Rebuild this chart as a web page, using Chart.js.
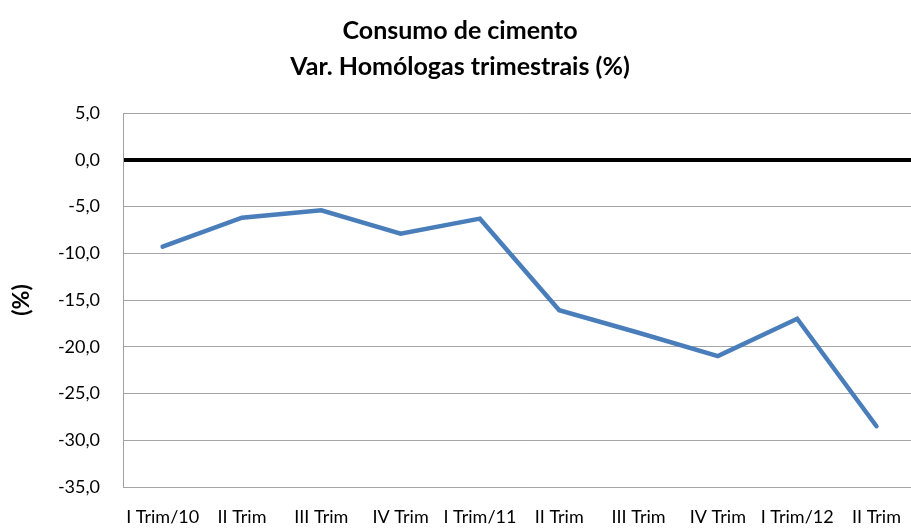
<!DOCTYPE html>
<html>
<head>
<meta charset="utf-8">
<script src="https://cdn.jsdelivr.net/npm/chart.js@4"></script>
<style>
  html, body { margin: 0; padding: 0; background: #fff; overflow: hidden; }
  #wrap { width: 920px; height: 532px; }
</style>
</head>
<body>
<div id="wrap"><canvas id="chart" width="920" height="532"></canvas></div>
<script>
  // data
  const categories = ["I Trim/10", "II Trim", "III Trim", "IV Trim", "I Trim/11", "II Trim", "III Trim", "IV Trim", "I Trim/12", "II Trim"];
  const consumo = [-9.3, -6.2, -5.4, -7.9, -6.3, -16.1, -18.5, -21.0, -17.0, -28.5];
  const titleLines = ["Consumo de cimento", "Var. Homólogas trimestrais (%)"];
  const yMin = -35, yMax = 5, yStep = 5;

  const FONT = "Lato, 'Open Sans', sans-serif";

  new Chart(document.getElementById("chart"), {
    type: "line",
    data: {
      labels: categories,
      datasets: [{
        data: consumo,
        borderColor: "#4a7ebb",
        borderWidth: 4.5,
        borderCapStyle: "round",
        pointRadius: 0,
        tension: 0,
        fill: false,
      }],
    },
    options: {
      responsive: false,
      animation: false,
      layout: { padding: 0 },
      plugins: {
        legend: { display: false },
        tooltip: { enabled: false },
        title: {
          display: true,
          text: titleLines,
          color: "#000",
          font: { family: FONT, size: 25, weight: "bold", lineHeight: 1.44 },
          padding: { top: 13, bottom: 28 },
        },
      },
      scales: {
        x: {
          offset: true,
          grid: { display: false, drawTicks: false },
          border: { display: false },
          ticks: {
            color: "#000",
            font: { family: FONT, size: 18 },
            padding: 19,
            maxRotation: 0,
            autoSkip: false,
          },
          afterFit: (s) => { s.height = 45; },
        },
        y: {
          min: yMin,
          max: yMax,
          border: { display: true, color: "#a0a0a0", width: 1 },
          grid: {
            drawTicks: false,
            color: (c) => (c.tick && c.tick.value === 0 ? "#000" : "#a6a6a6"),
            lineWidth: (c) => (c.tick && c.tick.value === 0 ? 4 : 1),
          },
          ticks: {
            stepSize: yStep,
            color: "#000",
            font: { family: FONT, size: 18 },
            padding: 23,
            callback: (v) => v.toFixed(1).replace(".", ","),
          },
          title: {
            display: true,
            text: "(%)",
            color: "#000",
            font: { family: FONT, size: 23, weight: "bold" },
            padding: { top: 8, bottom: 0 },
          },
          afterFit: (s) => { s.width = 123; },
        },
      },
    },
  });
</script>
</body>
</html>
